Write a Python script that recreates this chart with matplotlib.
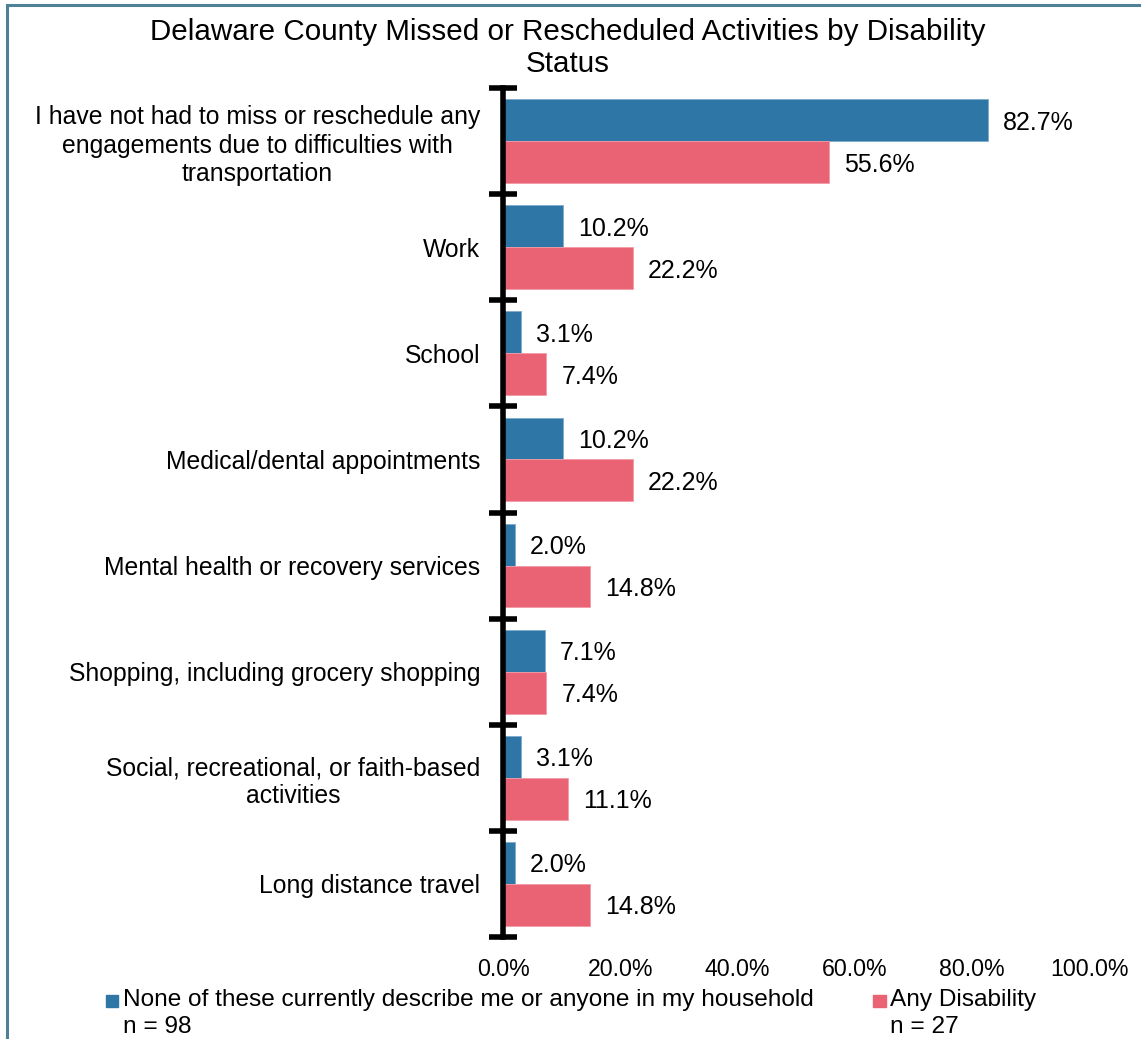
import matplotlib
matplotlib.use("Agg")
import matplotlib.pyplot as plt
import numpy as np
from matplotlib.patches import Rectangle

plt.rcParams['font.family'] = ['Liberation Sans', 'DejaVu Sans']

categories = [
    "I have not had to miss or reschedule any\nengagements due to difficulties with\ntransportation",
    "Work",
    "School",
    "Medical/dental appointments",
    "Mental health or recovery services",
    "Shopping, including grocery shopping",
    "Social, recreational, or faith-based\nactivities",
    "Long distance travel",
]
no_disability = [82.7, 10.2, 3.1, 10.2, 2.0, 7.1, 3.1, 2.0]
any_disability = [55.6, 22.2, 7.4, 22.2, 14.8, 7.4, 11.1, 14.8]
series_names = ["None of these currently describe me or anyone in my household",
                "Any Disability"]
series_counts = ["n = 98", "n = 27"]
x_ticks = [0, 20, 40, 60, 80, 100]

blue = "#2E76A6"
pink = "#E96375"

W, H = 1141, 1039
fig = plt.figure(figsize=(W / 100, H / 100), dpi=100)

# outer frame (left and top edges visible)
fig.add_artist(Rectangle((7 / W, -0.05), 1.2, 1 - 5 / H + 0.05, transform=fig.transFigure,
                         fill=False, edgecolor="#4E8198", linewidth=2.2))

ax = fig.add_axes([503 / W, 1 - 937 / H, 586 / W, 849 / H])

n = len(categories)
y = np.arange(n)
bh = 0.395
ax.barh(y - bh / 2, no_disability, height=bh, color=blue, edgecolor="#7FAACB", linewidth=0.6)
ax.barh(y + bh / 2, any_disability, height=bh, color=pink, edgecolor="#F29AA5", linewidth=0.6)

for yi, v in zip(y, no_disability):
    ax.annotate(f"{v:.1f}%", (v, yi - bh / 2), xytext=(15, 0), textcoords="offset pixels",
                va="center_baseline", ha="left", fontsize=18)
for yi, v in zip(y, any_disability):
    ax.annotate(f"{v:.1f}%", (v, yi + bh / 2), xytext=(15, 0), textcoords="offset pixels",
                va="center_baseline", ha="left", fontsize=18)

ax.set_xlim(0, 100)
ax.set_ylim(n - 0.5, -0.5)
ax.set_xticks(x_ticks)
ax.set_xticklabels([f"{t:.1f}%" for t in x_ticks], fontsize=16.7)
ax.tick_params(axis="x", length=0, pad=15)

ax.set_yticks(y)
ax.set_yticklabels(categories, fontsize=17.8, multialignment="center", linespacing=1.22)
ax.tick_params(axis="y", which="major", length=0, pad=16.5)
ax.set_yticks(np.arange(n + 1) - 0.5, minor=True)
ax.tick_params(axis="y", which="minor", direction="inout", length=20, width=4, color="black")

for s in ["top", "right", "bottom"]:
    ax.spines[s].set_visible(False)
ax.spines["left"].set_linewidth(4)
ax.spines["left"].set_color("black")

fig.text(568 / W, 1 - 48 / H,
         "Delaware County Missed or Rescheduled Activities by Disability\nStatus",
         ha="center", va="center", fontsize=21.3, linespacing=1.2)

# legend
for (x0, x1, tx), name, cnt, col in zip([(106, 118, 123), (873, 886, 890)],
                                        series_names, series_counts, [blue, pink]):
    fig.add_artist(Rectangle((x0 / W, 1 - 1007 / H), (x1 - x0) / W, 12 / H,
                             transform=fig.transFigure, color=col))
    fig.text(tx / W, 1 - 1000 / H, name, ha="left", va="center", fontsize=17.6)
    fig.text(tx / W, 1 - 1027 / H, cnt, ha="left", va="center", fontsize=17.6)

fig.savefig("out.png", dpi=100)
